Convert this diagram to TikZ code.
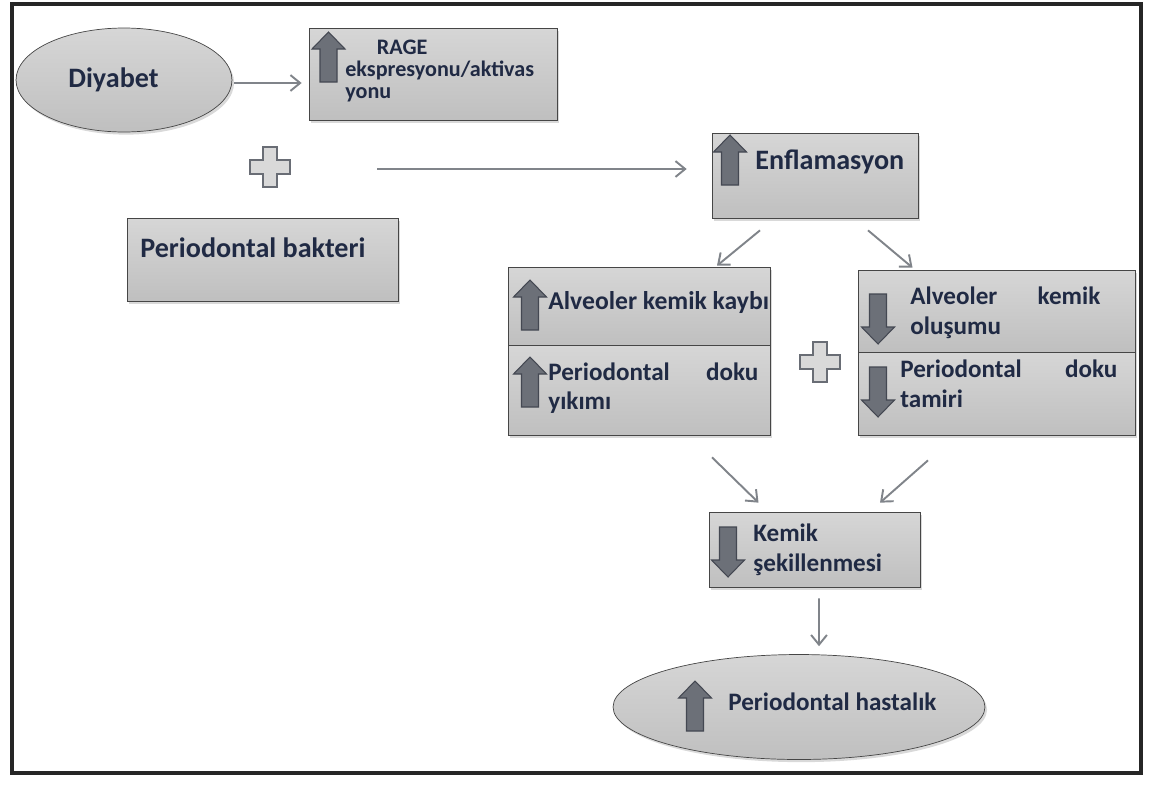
\documentclass[tikz,border=0pt]{standalone}
\usepackage{tikz}
\usepackage{fontspec}
\setmainfont{Carlito}
\usetikzlibrary{shapes,shadows,arrows.meta}
\definecolor{txtblue}{RGB}{32,42,68}
\definecolor{blkfill}{RGB}{108,112,120}
\definecolor{blkline}{RGB}{68,72,82}
\definecolor{connline}{RGB}{128,132,138}

\begin{document}
\begin{tikzpicture}[x=0.02cm,y=-0.02cm,>={Straight Barb[length=5.5pt,width=9pt]}]
    \tikzstyle{box}=[rectangle,draw=gray!55!black,thin,top color=gray!32,bottom color=gray!50,drop shadow={opacity=0.3,shadow xshift=1.2pt,shadow yshift=-1.5pt},inner sep=0pt]
    \tikzstyle{oval}=[box,ellipse]
    \tikzstyle{txt}=[font=\bfseries\fontsize{16}{19}\selectfont,text=txtblue,inner sep=0pt,align=left,anchor=west]
    \tikzstyle{smalltxt}=[txt,font=\bfseries\fontsize{14.3}{16.8}\selectfont]
    \tikzstyle{conn}=[->,draw=connline,line width=1.1pt]
    \tikzstyle{blk}=[fill=blkfill,draw=blkline,line width=0.6pt]
    \tikzset{
      upblk/.pic={\filldraw[blk] (-8.5,25) -- (-8.5,-8) -- (-16.5,-8) -- (0,-25) -- (16.5,-8) -- (8.5,-8) -- (8.5,25) -- cycle;},
      downblk/.pic={\filldraw[blk] (-8.5,-25) -- (-8.5,8) -- (-16.5,8) -- (0,25) -- (16.5,8) -- (8.5,8) -- (8.5,-25) -- cycle;},
      plussign/.pic={\filldraw[fill=gray!30,draw=blkline!80,line width=1.6pt]
        (-7,-20) -- (7,-20) -- (7,-7) -- (20,-7) -- (20,7) -- (7,7) -- (7,20)
        -- (-7,20) -- (-7,7) -- (-20,7) -- (-20,-7) -- (-7,-7) -- cycle;}
    }
    \useasboundingbox (0,0) rectangle (1151,785);
    \draw[line width=1.8pt,black!85] (12,4) rectangle (1141,773);

    % top row
    \node[oval,minimum width=4.32cm,minimum height=2.08cm] (diyabet) at (124,80) {};
    \node[txt] (diyabetT) at (68,80) {Diyabet};
    \node[box,minimum width=4.96cm,minimum height=1.84cm] (rage) at (433,74) {};
    \pic at (328.5,57) {upblk};
    \node[txt,font=\bfseries\fontsize{12.6}{12.4}\selectfont] (rageT) at (345,71)
      {\hspace*{18pt}RAGE\\ekspresyonu/aktivas\\yonu};
    \pic at (270,167) {plussign};
    \node[box,minimum width=5.42cm,minimum height=1.66cm] (bakteri) at (262.5,259.5) {};
    \node[txt] (bakteriT) at (140,248) {Periodontal bakteri};
    \coordinate (lstart) at (377,169);

    \node[box,minimum width=4.12cm,minimum height=1.7cm] (enfl) at (815,175.5) {};
    \pic at (730,160) {upblk};
    \node[txt] (enflT) at (755,162) {Enflamasyon};

    % middle boxes
    \node[box,minimum width=5.24cm,minimum height=1.56cm] (lefttop) at (639,306) {};
    \node[box,minimum width=5.24cm,minimum height=1.8cm] (leftbot) at (639,390) {};
    \pic at (530,305) {upblk};
    \pic at (530,382) {upblk};
    \node[smalltxt,font=\bfseries\fontsize{14.6}{17}\selectfont] (lefttopT) at (548,303) {Alveoler kemik kaybı};
    \node[smalltxt,text width=4.2cm] (leftbotT) at (548,388) {Periodontal\hfill doku\\yıkımı};

    \node[box,minimum width=5.54cm,minimum height=1.64cm] (righttop) at (996.5,311) {};
    \node[box,minimum width=5.54cm,minimum height=1.66cm] (rightbot) at (996.5,393.5) {};
    \pic at (878,319) {downblk};
    \pic at (878,392) {downblk};
    \node[smalltxt,text width=3.8cm] (righttopT) at (910,313) {Alveoler\hfill kemik\\oluşumu};
    \node[smalltxt,text width=4.34cm] (rightbotT) at (900,384) {Periodontal\hfill doku\\tamiri};
    \pic at (820,362) {plussign};

    % bottom
    \node[box,minimum width=4.22cm,minimum height=1.5cm] (kemik) at (814.5,549.5) {};
    \pic at (728,552) {downblk};
    \node[smalltxt] (kemikT) at (753,550) {Kemik\\şekillenmesi};
    \node[oval,minimum width=7.44cm,minimum height=2.1cm] (hast) at (799,707) {};
    \pic at (695,706) {upblk};
    \node[smalltxt] (hastT) at (728,702) {Periodontal hastalık};

    % connectors
    \draw[conn,shorten <=1pt,shorten >=4pt] (diyabet.east |- 0,83) -- (rage.west |- 0,83);
    \draw[conn,shorten >=0.5cm] (lstart) -- (lstart -| enfl.west);
    \draw[conn] ([shift={(-55,12)}]enfl.south) -- ([shift={(78,-1)}]lefttop.north);
    \draw[conn] ([shift={(53,12)}]enfl.south) -- ([shift={(-84,-2)}]righttop.north);
    \draw[conn] ([shift={(73,22)}]leftbot.south) -- ([shift={(-56,-9)}]kemik.north);
    \draw[conn] ([shift={(-68.5,25)}]rightbot.south) -- ([shift={(65.5,-9)}]kemik.north);
    \draw[conn] ([shift={(4.5,11)}]kemik.south) -- ([shift={(20,-8)}]hast.north);
\end{tikzpicture}
\end{document}
